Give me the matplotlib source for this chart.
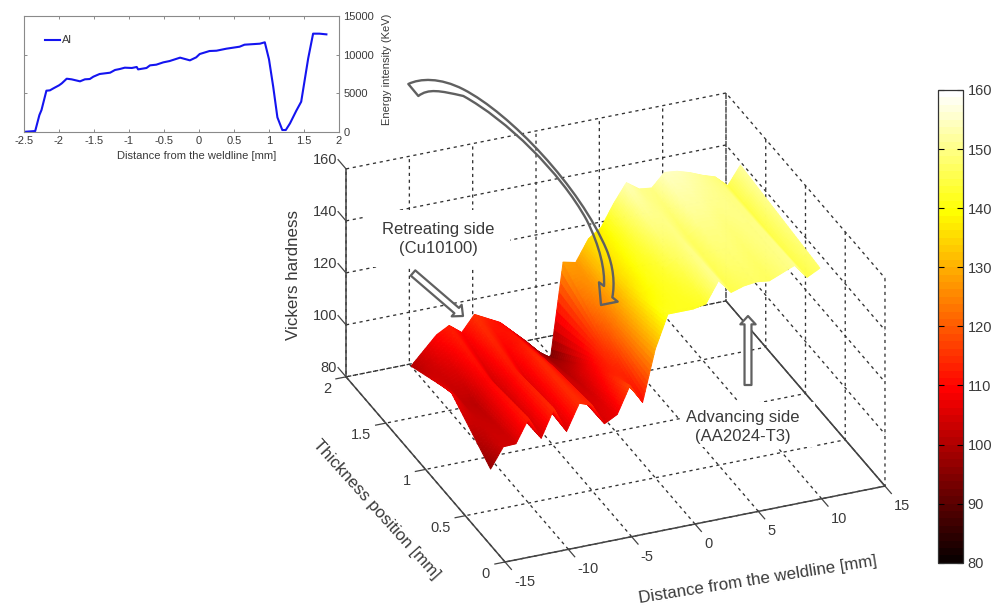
import numpy as np
import matplotlib
matplotlib.use('Agg')
import matplotlib.pyplot as plt
from matplotlib.patches import FancyArrowPatch, PathPatch, Rectangle
from matplotlib.path import Path
from matplotlib.cm import ScalarMappable
from matplotlib.colors import Normalize
from mpl_toolkits.mplot3d import Axes3D, proj3d

plt.rcParams['font.family'] = ['Liberation Sans', 'DejaVu Sans']

W, H = 1005, 607
TXT = '#3a3a3a'
AXC = '#444444'

# top inset: Al line scan
al_x = [-2.47, -2.34, -2.28, -2.25, -2.18, -2.13, -2.08, -2.0, -1.96, -1.89, -1.82, -1.70, -1.63, -1.56,
        -1.51, -1.42, -1.27, -1.20, -1.13, -1.06, -0.96, -0.89, -0.87, -0.75, -0.70, -0.61, -0.51, -0.42,
        -0.27, -0.13, -0.04, 0.01, 0.15, 0.25, 0.39, 0.58, 0.65, 0.87, 0.94, 1.0, 1.06, 1.12, 1.19, 1.24,
        1.30, 1.39, 1.46, 1.56, 1.63, 1.72, 1.82]
al_y = [0, 86, 2160, 2810, 5317, 5360, 5620, 6010, 6270, 6870, 6790, 6530, 6790, 6830,
        7130, 7480, 7650, 8000, 8130, 8300, 8260, 8390, 8080, 8260, 8600, 8690, 8990, 9160,
        9600, 9250, 9640, 10070, 10460, 10500, 10760, 11020, 11280, 11410, 11590, 9380, 5840, 1860, 220, 220,
        1080, 2720, 3890, 9510, 12710, 12710, 12620]

# hardness map, one row per thickness position
dist_mm = list(range(-13, 14))
thick_mm = [0.5, 1.0, 1.5]
hv_05 = [96, 103.6, 103.8, 112.5, 104, 114.3, 104.7, 114.5, 112.8, 104.7, 107.3, 117.4, 110, 129.5,
         142, 142, 142, 143, 151, 145.5, 147, 147.6, 147, 149, 151, 145.5, 148]
hv_10 = [108, 102, 101, 110, 103, 112, 106, 114, 110, 104, 102, 108, 118, 126,
         136, 141, 144, 148, 150, 147, 150, 150, 149, 150, 150, 145, 150]
hv_15 = [100, 105, 110, 112.7, 109, 115, 112.5, 110, 105.5, 101, 96, 92.2, 128.3, 127.2,
         135.3, 138.7, 147, 154, 150.6, 150, 155, 154.5, 153, 151, 149.4, 145, 152]

x_ticks = [-15, -10, -5, 0, 5, 10, 15]
y_ticks = [0, 0.5, 1, 1.5, 2]
y_tick_labels = ['0', '0.5', '1', '1.5', '2']
z_ticks = [80, 100, 120, 140, 160]
cb_ticks = [80, 90, 100, 110, 120, 130, 140, 150, 160]


def box(l, t, r, b):
    return [l / W, 1 - b / H, (r - l) / W, (b - t) / H]


fig = plt.figure(figsize=(W / 100, H / 100), dpi=100, facecolor='white')

# 3d chart, square axes so the box lands where it should
S = 612.5
cx, cy = 615.5, 327.5
ax = fig.add_axes(box(cx - 0.5135 * S, cy - 0.4865 * S, cx + 0.4865 * S, cy + 0.5135 * S), projection='3d',
                  proj_type='ortho', facecolor='none')
ax.set_box_aspect((411.3, 415.5, 237.4), zoom=1.0)
ax.view_init(elev=28.84, azim=-112.5)

# fine mesh only stands in for interpolated shading, the nodes are the values above
fx = np.linspace(0, len(dist_mm) - 1, 26 * 10 + 1)
fy = np.linspace(0, len(thick_mm) - 1, 2 * 20 + 1)
zz = np.array([hv_05, hv_10, hv_15])
zf = np.array([np.interp(fx, np.arange(len(dist_mm)), row) for row in zz])
zf = np.array([np.interp(fy, np.arange(len(thick_mm)), zf[:, i]) for i in range(zf.shape[1])]).T
X, Y = np.meshgrid(np.interp(fx, np.arange(len(dist_mm)), dist_mm),
                   np.interp(fy, np.arange(len(thick_mm)), thick_mm))
norm = Normalize(80, 160)
surf = ax.plot_surface(X, Y, zf, cmap='hot', norm=norm, rstride=1, cstride=1, linewidth=0.7,
                       antialiased=True, shade=False)
surf.set_edgecolor('face')

ax.set_xlim(-15, 15)
ax.set_ylim(0, 2)
ax.set_zlim(80, 160)
ax.set_xticks(x_ticks)
ax.set_yticks(y_ticks)
ax.set_zticks(z_ticks)
ax.set_xticklabels([])
ax.set_yticklabels([])
ax.set_zticklabels([])
for a in (ax.xaxis, ax.yaxis, ax.zaxis):
    a.set_pane_color((1, 1, 1, 0))
    a.pane.set_edgecolor('none')
    a._axinfo['grid'].update(color='#333333', linestyle=(0, (2.4, 2.8)), linewidth=0.95)
    a._axinfo['tick'].update(color=(1, 1, 1, 0), inward_factor=0.0, outward_factor=0.0)
    a.line.set_color(AXC)
    a.line.set_linewidth(1.1)
ax.plot([15, 15], [0, 2], [80, 80], color=AXC, lw=1.1)

# tick marks and tick labels hang off the projected tick positions
M = ax.get_proj()


def tick_label(x, y, z, s, dx, dy, ha):
    xp, yp, _ = proj3d.proj_transform(x, y, z, M)
    ax.annotate(s, (xp, yp), xytext=(dx, dy), textcoords='offset pixels', ha=ha, va='center', fontsize=10.5,
                color=TXT, annotation_clip=False)


for v in x_ticks:
    ax.plot([v, v], [0, -0.08], [80, 80], color=AXC, lw=0.9)
    tick_label(v, 0, 80, str(v), 9, -20, 'left')
for v, s in zip(y_ticks, y_tick_labels):
    ax.plot([-15, -15.8], [v, v], [80, 80], color=AXC, lw=0.9)
    tick_label(-15, v, 80, s, -15, -12, 'right')
for v in z_ticks:
    ax.plot([-15, -15], [2, 2.1], [v, v], color=AXC, lw=0.9)
    tick_label(-15, 2, v, str(v), -9, 9, 'right')
ax.set_xlim(-15, 15)
ax.set_ylim(0, 2)
ax.set_zlim(80, 160)

# inset
ins = fig.add_axes(box(24, 16, 339, 131.7))
ins.plot(al_x, al_y, color='#1414f0', lw=1.5, label='Al')
ins.set_xlim(-2.5, 2)
ins.set_ylim(0, 15000)
ins.set_xticks(np.arange(-2.5, 2.01, 0.5))
ins.set_xticklabels(['-2.5', '-2', '-1.5', '-1', '-0.5', '0', '0.5', '1', '1.5', '2'])
ins.set_yticks([0, 5000, 10000, 15000])
ins.yaxis.tick_right()
ins.tick_params(direction='in', top=True, bottom=True, left=True, right=True, length=2.5, width=0.6,
                color='#777777', labelsize=8, labelcolor=TXT, pad=3)
ins.set_xlabel('Distance from the weldline [mm]', fontsize=8, color=TXT)
ins.xaxis.set_label_coords(0.549, -0.165)
for sp in ins.spines.values():
    sp.set_color('#8a8a8a')
    sp.set_linewidth(0.8)
ins.legend(loc='upper left', bbox_to_anchor=(0.05, 0.88), frameon=False, fontsize=8, handlelength=1.3,
           handletextpad=0.2, borderpad=0, labelcolor=TXT)

# colorbar
cax = fig.add_axes(box(938, 90, 963.3, 562.7))
cb = fig.colorbar(ScalarMappable(norm=norm, cmap=plt.get_cmap('hot', 64)), cax=cax)
cb.set_ticks(cb_ticks)
cax.tick_params(direction='in', left=True, right=True, length=4, width=0.8, labelsize=10.5,
                labelcolor=TXT, pad=3)
cb.outline.set_linewidth(0.9)
cb.outline.set_edgecolor('#333333')

# overlay in pixel coordinates for the hand drawn callouts
ov = fig.add_axes([0, 0, 1, 1], facecolor='none', zorder=5)
ov.set_xlim(0, W)
ov.set_ylim(H, 0)
ov.axis('off')

ov.add_patch(Rectangle((365, 210), 145, 57, fc='white', ec='none', zorder=1))
ov.add_patch(Rectangle((680, 402), 135, 45, fc='white', ec='none', zorder=1))
ov.text(438, 239, 'Retreating side\n(Cu10100)', ha='center', va='center', fontsize=12, color=TXT,
        linespacing=1.35, zorder=3)
ov.text(743, 427, 'Advancing side\n(AA2024-T3)', ha='center', va='center', fontsize=12, color=TXT,
        linespacing=1.35, zorder=3)

ov.text(293, 275, 'Vickers hardness', rotation=90, ha='center', va='center', fontsize=12.2, color=TXT)
ov.text(376, 510, 'Thickness position [mm]', rotation=-48, ha='center', va='center', fontsize=12.2,
        color=TXT, rotation_mode='anchor')
ov.text(758, 580, 'Distance from the weldline [mm]', rotation=9, ha='center', va='center', fontsize=12.2,
        color=TXT, rotation_mode='anchor')
ov.text(387, 69, 'Energy intensity (KeV)', rotation=90, ha='center', va='center', fontsize=8, color=TXT)

for tail, tip in (((413, 273), (463, 316)), ((748, 385), (748, 316))):
    ov.add_patch(FancyArrowPatch(tail, tip, arrowstyle='simple,head_width=11,head_length=6,tail_width=5',
                                 mutation_scale=1, fc='white', ec='#606060', lw=1.6, shrinkA=0, shrinkB=0,
                                 zorder=4))

# curved hollow arrow, outline in zoom units of the top left callout
verts = [(25, 72), (60, 55), (120, 52), (190, 88), (330, 160), (540, 380), (620, 570), (640, 620), (645, 670), (637, 712),
         (653, 725), (603, 735), (597, 667), (612, 678), (615, 630), (600, 560), (560, 480), (480, 335), (320, 180), (190, 108),
         (120, 92), (85, 85), (55, 108), (25, 72)]
codes = [Path.MOVETO] + [Path.CURVE4] * 9 + [Path.LINETO] * 4 + [Path.CURVE4] * 9 + [Path.CLOSEPOLY]
ov.add_patch(PathPatch(Path([(400 + a / 3, 60 + b / 3) for a, b in verts], codes), fc='none', ec='#606060',
                       lw=1.7, joinstyle='round', zorder=4))

fig.savefig('out.png', dpi=100)
